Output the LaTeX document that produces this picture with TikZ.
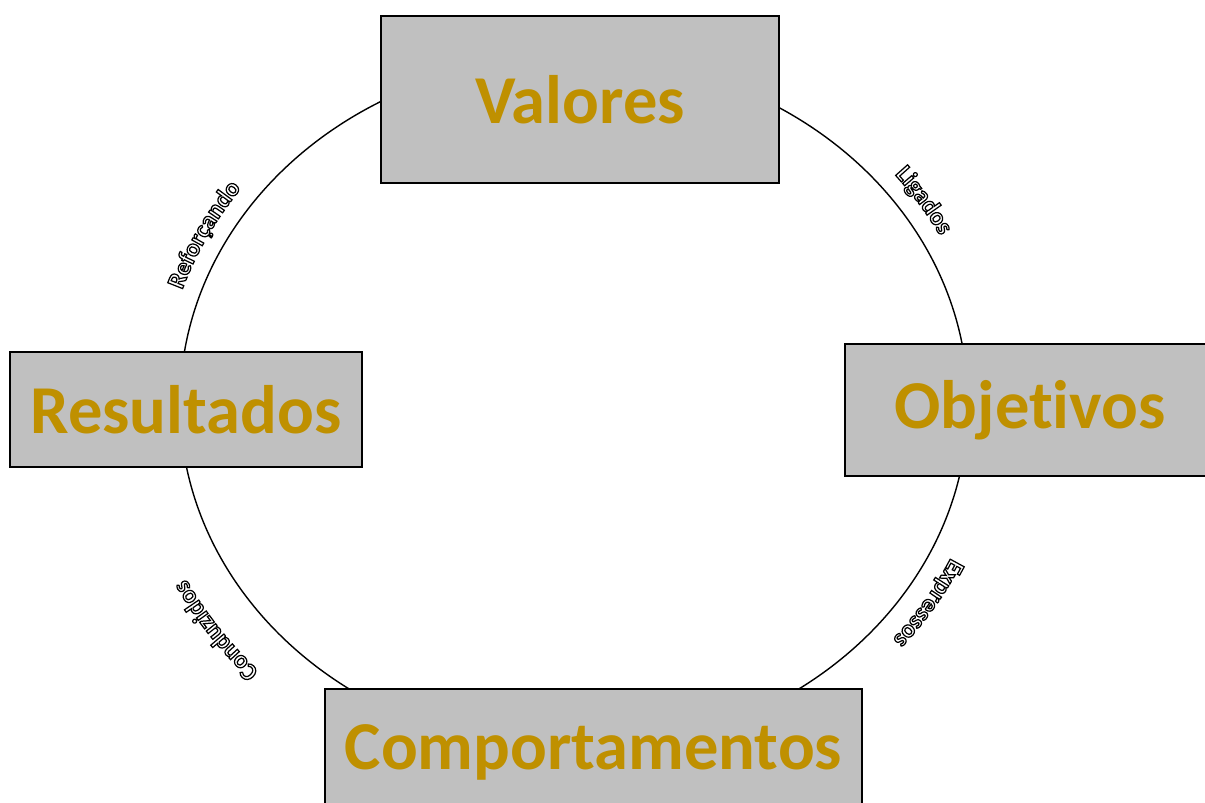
\documentclass[tikz,border=0pt]{standalone}
\usepackage{fontspec}
\setmainfont{Carlito}[Ligatures=NoCommon]
\newfontfamily\rimfont[FakeBold=5, Ligatures=NoCommon]{Carlito}
\usetikzlibrary{decorations.text}

\definecolor{boxgray}{RGB}{192,192,192}
\definecolor{valuegold}{RGB}{191,144,0}

% white letters with a black rim
\newcommand{\rimtext}{\rimfont\bfseries\fontsize{14}{16}\selectfont\color{white}\special{pdf:code 0 G}}

\tikzset{
  cyclebox/.style={draw=black, line width=0.9pt, fill=boxgray, text=valuegold,
    font=\bfseries\fontsize{39}{47}\selectfont, inner sep=0pt},
  arclabel/.style={decorate, decoration={text along path, text align=center,
    text={|\rimtext|#1}}}
}

\begin{document}
\begin{tikzpicture}
    \useasboundingbox (0,0) rectangle (24.1,16.06);
    \clip (0,0) rectangle (24.1,16.06); % boxes run off the page
    \coordinate (Center) at (11.48,7.98);

    \draw[line width=0.8pt] (Center) ellipse [x radius=7.88, y radius=6.94];

    % labels along the cycle, clockwise
    \path[shift={(Center)}, arclabel=Reforçando] (171:8.25 and 7.3)
        arc[start angle=171, end angle=135, x radius=8.25, y radius=7.3];
    \path[shift={(Center)}, arclabel=Ligados] (48:8.25 and 7.3)
        arc[start angle=48, end angle=18, x radius=8.25, y radius=7.3];
    \path[shift={(Center)}, arclabel=Expressos] (-13:8.3 and 7.35)
        arc[start angle=-13, end angle=-51, x radius=8.3, y radius=7.35];
    \path[shift={(Center)}, arclabel=Conduzidos] (233:8.7 and 7.75)
        arc[start angle=233, end angle=197, x radius=8.7, y radius=7.75];

    \node[cyclebox, minimum width=7.96cm, minimum height=3.34cm] (valores) at (11.6,14.07) {Valores};
    \node[cyclebox, minimum width=7.04cm, minimum height=2.3cm] (resultados) at (3.72,7.87) {Resultados};
    \node[cyclebox, minimum width=7.4cm, minimum height=2.64cm] (objetivos) at (20.6,7.86) {Objetivos};
    \node[cyclebox, minimum width=10.74cm, minimum height=2.52cm] (comportamentos) at (11.87,1.02) {Comportamentos};
\end{tikzpicture}
\end{document}
